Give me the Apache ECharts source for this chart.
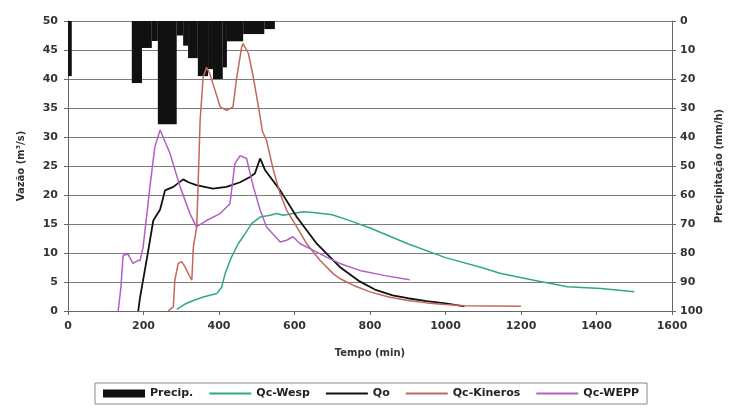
<!DOCTYPE html>
<html>
<head>
<meta charset="utf-8">
<script src="https://cdn.jsdelivr.net/npm/echarts@6/dist/echarts.min.js"></script>
<style>
  html, body { margin: 0; padding: 0; background: #fff; }
  #chart { width: 737px; height: 410px; }
</style>
</head>
<body>
<div id="chart"></div>
<script>
// Rainfall intensity blocks: start time, end time (min) and intensity (mm/h)
const precipStart = [0, 169, 196, 222, 238, 288, 305, 318, 344, 371, 384, 410, 421, 464, 490, 520];
const precipEnd   = [10, 196, 222, 238, 288, 305, 318, 344, 371, 384, 410, 421, 464, 490, 520, 548];
const precipValue = [19, 21.4, 9.3, 6.9, 35.6, 5, 8.5, 12.8, 19, 16.6, 20, 16, 7, 4.5, 4.5, 2.8];

// Observed discharge (Qo)
const qoTime = [186, 191, 208, 226, 244, 257, 279, 305, 319, 340, 384, 420, 456, 482, 495, 509, 522, 562, 606, 659, 720, 770, 813, 860, 900, 950, 1000, 1050];
const qoValue = [0, 2.4, 8.7, 15.6, 17.5, 20.8, 21.4, 22.7, 22.2, 21.7, 21.1, 21.4, 22.2, 23.1, 23.7, 26.3, 24.3, 20.8, 16.2, 11.6, 7.6, 5.2, 3.7, 2.7, 2.2, 1.7, 1.3, 0.8];

// Simulated discharge, Wesp model
const wespTime = [288, 310, 332, 358, 394, 407, 416, 433, 451, 469, 487, 509, 535, 553, 570, 597, 623, 650, 700, 750, 800, 900, 1000, 1100, 1144, 1234, 1323, 1412, 1500];
const wespValue = [0.3, 1.2, 1.8, 2.4, 3.0, 4.1, 6.4, 9.3, 11.6, 13.3, 15.1, 16.2, 16.5, 16.8, 16.5, 16.8, 17.1, 17.0, 16.6, 15.5, 14.3, 11.6, 9.2, 7.4, 6.5, 5.3, 4.2, 3.9, 3.3];

// Simulated discharge, Kineros model
const kinTime = [265, 279, 283, 292, 301, 310, 323, 328, 332, 341, 345, 350, 358, 367, 375, 384, 403, 420, 437, 447, 460, 464, 478, 491, 505, 515, 526, 544, 562, 579, 606, 632, 668, 703, 720, 760, 800, 850, 900, 950, 1000, 1050, 1055, 1200];
const kinValue = [0, 0.7, 5.3, 8.2, 8.5, 7.6, 5.9, 5.3, 11, 14.5, 22.5, 32.9, 40.3, 42, 41, 39.2, 35.2, 34.6, 35.2, 40.3, 45.5, 46.1, 44.4, 40.3, 35, 31, 29.4, 24.3, 20.2, 17.4, 14.5, 11.6, 8.7, 6.4, 5.6, 4.3, 3.3, 2.4, 1.8, 1.4, 1.1, 0.9, 0.8, 0.8];

// Simulated discharge, WEPP model
const weppTime = [133, 140, 146, 159, 172, 185, 191, 199, 217, 230, 244, 270, 297, 323, 340, 367, 403, 429, 442, 456, 473, 491, 509, 526, 562, 579, 596, 615, 649, 685, 720, 773, 840, 905];
const weppValue = [0, 4, 9.6, 9.8, 8.2, 8.7, 8.7, 11, 21.4, 28.3, 31.2, 27.2, 21.4, 16.8, 14.5, 15.6, 16.8, 18.5, 25.4, 26.8, 26.3, 21.4, 17.4, 14.5, 11.9, 12.2, 12.8, 11.6, 10.5, 9.3, 8.2, 7.0, 6.1, 5.4];

const pairs = (xs, ys) => xs.map((x, i) => [x, ys[i]]);
const precipData = precipStart.map((s, i) => [s, precipEnd[i], precipValue[i]]);

const FONT = '"DejaVu Sans", "Liberation Sans", Arial, sans-serif';
const axisText = { color: '#333', fontFamily: FONT, fontWeight: 'bold', fontSize: 11 };
const LINE_ICON = 'path://M0,0 L40,0 L40,2 L0,2 Z';

const chart = echarts.init(document.getElementById('chart'), null, { renderer: 'canvas' });

const lineSeries = (name, data, color, width) => ({
  name, type: 'line', data, symbol: 'none', showSymbol: false, yAxisIndex: 0,
  lineStyle: { color, width }, itemStyle: { color }, z: 3
});

chart.setOption({
  animation: false,
  backgroundColor: '#fff',
  grid: { left: 68, right: 65, top: 21, bottom: 99 },
  legend: {
    bottom: 6, left: 95,
    borderColor: '#888', borderWidth: 1, padding: [5, 8],
    itemWidth: 42, itemHeight: 8, itemGap: 16,
    textStyle: { color: '#222', fontFamily: FONT, fontWeight: 'bold', fontSize: 11 },
    data: [
      { name: 'Precip.', icon: 'rect' },
      { name: 'Qc-Wesp', icon: LINE_ICON },
      { name: 'Qo', icon: LINE_ICON },
      { name: 'Qc-Kineros', icon: LINE_ICON },
      { name: 'Qc-WEPP', icon: LINE_ICON }
    ]
  },
  xAxis: {
    type: 'value', min: 0, max: 1600, interval: 200,
    name: 'Tempo (min)', nameLocation: 'middle', nameGap: 37,
    nameTextStyle: { ...axisText, fontSize: 10 },
    axisLine: { show: true, onZero: false, lineStyle: { color: '#666', width: 1 } },
    axisTick: { show: true, inside: false, length: 4, lineStyle: { color: '#666' } },
    axisLabel: { ...axisText, margin: 10, formatter: v => String(v) },
    splitLine: { show: false }
  },
  yAxis: [
    {
      type: 'value', min: 0, max: 50, interval: 5,
      name: 'Vazão (m³/s)', nameLocation: 'middle', nameGap: 42, nameRotate: 90,
      nameTextStyle: { ...axisText, fontSize: 10 },
      axisLine: { show: true, lineStyle: { color: '#666' } },
      axisTick: { show: true, length: 4, lineStyle: { color: '#666' } },
      axisLabel: { ...axisText, margin: 10 },
      splitLine: { show: true, lineStyle: { color: '#7a7a7a', width: 1 } }
    },
    {
      type: 'value', min: 0, max: 100, interval: 10, inverse: true, position: 'right',
      name: 'Precipitação (mm/h)', nameLocation: 'middle', nameGap: 42, nameRotate: 90,
      nameTextStyle: { ...axisText, fontSize: 10 },
      axisLine: { show: true, lineStyle: { color: '#666' } },
      axisTick: { show: true, length: 4, lineStyle: { color: '#666' } },
      axisLabel: { ...axisText, margin: 8 },
      splitLine: { show: false }
    }
  ],
  series: [
    {
      name: 'Precip.', type: 'custom', yAxisIndex: 1, z: 2,
      itemStyle: { color: '#111' },
      encode: { x: [0, 1], y: 2 },
      data: precipData,
      renderItem: (params, api) => {
        const p0 = api.coord([api.value(0), 0]);
        const p1 = api.coord([api.value(1), api.value(2)]);
        return {
          type: 'rect',
          shape: { x: p0[0], y: p0[1], width: p1[0] - p0[0], height: p1[1] - p0[1] },
          style: { fill: '#111' }
        };
      }
    },
    lineSeries('Qc-Wesp', pairs(wespTime, wespValue), '#2fa88a', 1.5),
    lineSeries('Qo', pairs(qoTime, qoValue), '#111111', 1.8),
    lineSeries('Qc-Kineros', pairs(kinTime, kinValue), '#c2675e', 1.5),
    lineSeries('Qc-WEPP', pairs(weppTime, weppValue), '#b160c4', 1.5)
  ]
});
</script>
</body>
</html>
